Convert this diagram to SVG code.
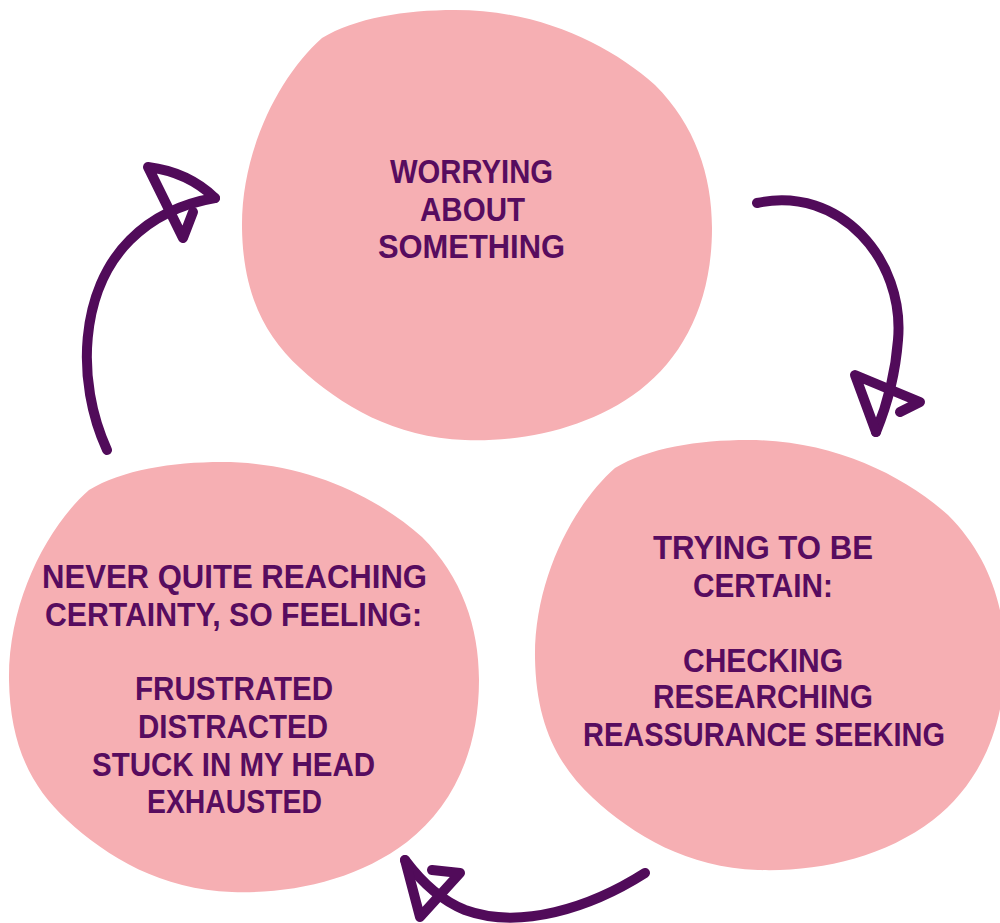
<svg xmlns="http://www.w3.org/2000/svg" xmlns:xlink="http://www.w3.org/1999/xlink" width="1000" height="923" viewBox="0 0 1000 923">
<style>
.blob{fill:#f6afb3}
.lbl{font-family:"Liberation Sans",Arial,sans-serif;font-weight:bold;font-size:33px;fill:#570c5f}
.conn{fill:none;stroke:#510b5a;stroke-width:10;stroke-linecap:round;stroke-linejoin:round}
</style>
<defs>
<path id="blobShape" d="M 322,38 C 355,18 405,10 455,10 C 540,10 610,45 655,85 C 695,125 712,175 712,228 C 712,300 685,355 640,390 C 590,428 525,442 465,440 C 395,438 340,405 300,368 C 262,333 243,290 242,228 C 241,150 280,75 322,38 Z"/>
</defs>
<rect width="1000" height="923" fill="#ffffff"/>
<g id="node-worrying">
<use xlink:href="#blobShape" href="#blobShape" class="blob"/>
<text class="lbl" x="390" y="183" textLength="163" lengthAdjust="spacingAndGlyphs">WORRYING</text>
<text class="lbl" x="420" y="221" textLength="105" lengthAdjust="spacingAndGlyphs">ABOUT</text>
<text class="lbl" x="378" y="258" textLength="187" lengthAdjust="spacingAndGlyphs">SOMETHING</text>
</g>
<g id="node-trying">
<use xlink:href="#blobShape" href="#blobShape" class="blob" transform="translate(293,430)"/>
<text class="lbl" x="653" y="559" textLength="220" lengthAdjust="spacingAndGlyphs">TRYING TO BE</text>
<text class="lbl" x="693" y="597" textLength="140" lengthAdjust="spacingAndGlyphs">CERTAIN:</text>
<text class="lbl" x="683" y="672" textLength="160" lengthAdjust="spacingAndGlyphs">CHECKING</text>
<text class="lbl" x="653" y="708" textLength="220" lengthAdjust="spacingAndGlyphs">RESEARCHING</text>
<text class="lbl" x="583" y="746" textLength="362" lengthAdjust="spacingAndGlyphs">REASSURANCE SEEKING</text>
</g>
<g id="node-never">
<use xlink:href="#blobShape" href="#blobShape" class="blob" transform="translate(-233,452)"/>
<text class="lbl" x="42" y="588" textLength="385" lengthAdjust="spacingAndGlyphs">NEVER QUITE REACHING</text>
<text class="lbl" x="45" y="626" textLength="377" lengthAdjust="spacingAndGlyphs">CERTAINTY, SO FEELING:</text>
<text class="lbl" x="135" y="700" textLength="198" lengthAdjust="spacingAndGlyphs">FRUSTRATED</text>
<text class="lbl" x="138" y="738" textLength="190" lengthAdjust="spacingAndGlyphs">DISTRACTED</text>
<text class="lbl" x="92" y="776" textLength="283" lengthAdjust="spacingAndGlyphs">STUCK IN MY HEAD</text>
<text class="lbl" x="147" y="813" textLength="175" lengthAdjust="spacingAndGlyphs">EXHAUSTED</text>
</g>
<g id="connectors">
<path class="conn" d="M 757,203 C 840,185 905,260 898,340 C 895,380 885,410 876,432"/>
<path class="conn" d="M 900,412 L 920,402 L 855,375 L 876,432"/>
<path class="conn" d="M 645,873 C 590,908 520,930 465,910 C 440,900 420,880 405,860"/>
<path class="conn" d="M 432,870 L 460,873 L 420,917 L 405,860"/>
<path class="conn" d="M 107,450 C 75,380 80,290 130,240 C 155,215 185,203 215,198"/>
<path class="conn" d="M 215,198 Q 188,172 148,167 L 183,238 L 193,212"/>
</g>
</svg>
